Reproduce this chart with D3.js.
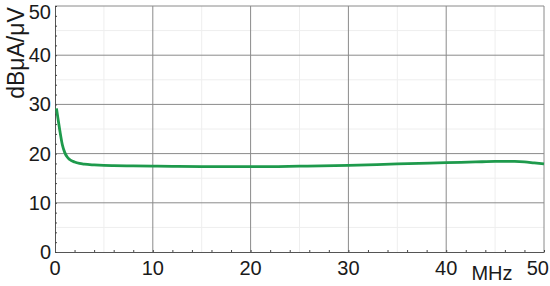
<!DOCTYPE html>
<html>
<head>
<meta charset="utf-8">
<script src="https://cdn.jsdelivr.net/npm/d3@7"></script>
<style>
  body { margin: 0; background: #fff; }
  svg { display: block; font-family: "Liberation Sans", Arial, sans-serif; }
</style>
</head>
<body>
<div id="chart"></div>
<script>
// frequency (MHz) and level (dBuA/uV)
const freqMHz = [0.15, 0.3, 0.5, 0.75, 1, 1.25, 1.5, 2, 2.5, 3, 4, 5, 6, 8, 10, 12, 15, 20, 25, 30, 35, 40, 43, 45, 47, 48, 49, 50];
const levelDb = [29.2, 27.2, 24.6, 21.8, 20.2, 19.3, 18.8, 18.3, 18.0, 17.85, 17.7, 17.6, 17.55, 17.5, 17.45, 17.4, 17.35, 17.35, 17.45, 17.6, 17.9, 18.15, 18.3, 18.4, 18.4, 18.3, 18.1, 17.9];
const xTickLabels = [0, 10, 20, 30, 40, 50];
const yTickLabels = [0, 10, 20, 30, 40, 50];

const width = 550, height = 286;
const padL = 55, padR = 544, padT = 6, padB = 252;

const x = d3.scaleLinear().domain([0, 50]).range([padL, padR]);
const y = d3.scaleLinear().domain([0, 50]).range([padB, padT]);

const svg = d3.select('#chart')
    .append('svg')
    .attr('width', width)
    .attr('height', height);

// minor grid every 5
const minor = d3.range(5, 50, 10);
svg.append('g').selectAll('line')
    .data(minor)
    .enter().append('line')
    .attr('x1', d => x(d)).attr('x2', d => x(d))
    .attr('y1', padT).attr('y2', padB)
    .attr('stroke', '#eeeeee');
svg.append('g').selectAll('line')
    .data(minor)
    .enter().append('line')
    .attr('x1', padL).attr('x2', padR)
    .attr('y1', d => y(d)).attr('y2', d => y(d))
    .attr('stroke', '#eeeeee');

// major grid
svg.append('g').selectAll('line')
    .data(d3.range(10, 51, 10))
    .enter().append('line')
    .attr('x1', d => x(d)).attr('x2', d => x(d))
    .attr('y1', padT).attr('y2', padB)
    .attr('stroke', '#8a8a8a');
svg.append('g').selectAll('line')
    .data(d3.range(10, 51, 10))
    .enter().append('line')
    .attr('x1', padL).attr('x2', padR)
    .attr('y1', d => y(d)).attr('y2', d => y(d))
    .attr('stroke', '#8a8a8a');

// axes with small inside ticks every 2
const xAxis = d3.axisBottom(x)
    .tickValues(d3.range(0, 51, 2))
    .tickSizeInner(-2).tickSizeOuter(0)
    .tickFormat('');
const yAxis = d3.axisLeft(y)
    .tickValues(d3.range(0, 51, 2))
    .tickSizeInner(-2).tickSizeOuter(0)
    .tickFormat('');

const gx = svg.append('g')
    .attr('transform', `translate(0, ${padB})`)
    .call(xAxis);
const gy = svg.append('g')
    .attr('transform', `translate(${padL}, 0)`)
    .call(yAxis);
gx.select('.domain').attr('stroke', '#555');
gy.select('.domain').attr('stroke', '#555');
gx.selectAll('.tick line').attr('stroke', '#444');
gy.selectAll('.tick line').attr('stroke', '#444');

// tick labels
svg.append('g').selectAll('text')
    .data(yTickLabels)
    .enter().append('text')
    .attr('x', padL - 4)
    .attr('y', d => d === 50 ? y(d) + 6 : y(d))
    .attr('dy', '0.35em')
    .attr('text-anchor', 'end')
    .attr('font-size', 20)
    .attr('fill', '#1a1a1a')
    .text(d => d);

svg.append('g').selectAll('text')
    .data(xTickLabels)
    .enter().append('text')
    .attr('x', d => d === 50 ? 549 : x(d))
    .attr('y', 275)
    .attr('text-anchor', d => d === 50 ? 'end' : 'middle')
    .attr('font-size', 20)
    .attr('fill', '#1a1a1a')
    .text(d => d);

svg.append('text')
    .attr('x', 492)
    .attr('y', 280)
    .attr('text-anchor', 'middle')
    .attr('font-size', 20)
    .attr('fill', '#1a1a1a')
    .text('MHz');

svg.append('text')
    .attr('transform', 'translate(24, 53) rotate(-90)')
    .attr('text-anchor', 'middle')
    .attr('font-size', 23)
    .attr('fill', '#1a1a1a')
    .text('dBμA/μV');

// trace
const line = d3.line()
    .x((d, i) => x(freqMHz[i]))
    .y(d => y(d))
    .curve(d3.curveMonotoneX);

svg.append('path')
    .datum(levelDb)
    .attr('d', line)
    .attr('fill', 'none')
    .attr('stroke', '#1e9a4c')
    .attr('stroke-width', 2.8);
</script>
</body>
</html>
